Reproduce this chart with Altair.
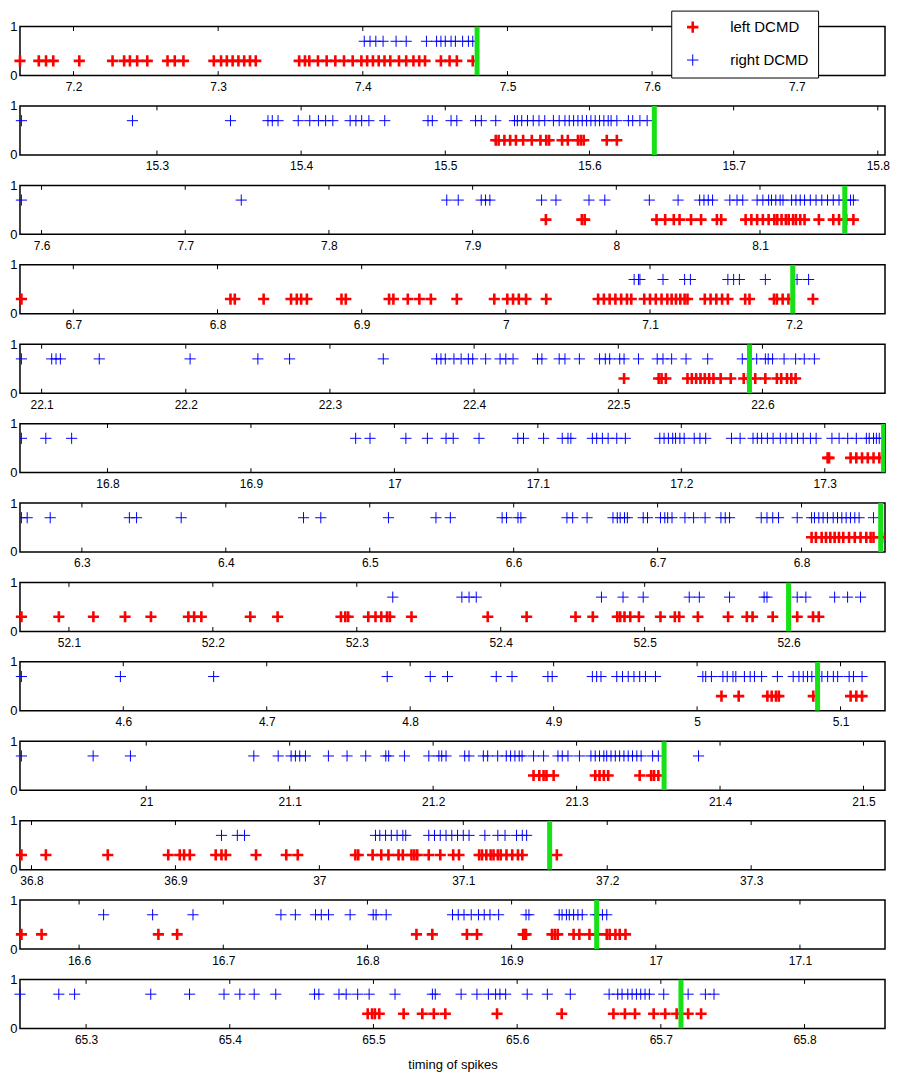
import altair as alt
import pandas as pd

# ---------------- data (spike times in seconds) ----------------
red1 = [7.163, 7.176, 7.181, 7.186, 7.204, 7.227, 7.235, 7.239, 7.244, 7.251, 7.265, 7.270, 7.276,
        7.297, 7.302, 7.306, 7.310, 7.314, 7.318, 7.322, 7.326, 7.356, 7.360, 7.363, 7.369, 7.375,
        7.381, 7.387, 7.393, 7.399, 7.403, 7.407, 7.411, 7.415, 7.419, 7.425, 7.430, 7.435, 7.439,
        7.443, 7.454, 7.460, 7.465, 7.476]
blue1 = [7.401, 7.405, 7.409, 7.414, 7.423, 7.430, 7.444, 7.451, 7.454, 7.457, 7.461, 7.464, 7.469,
         7.473, 7.476]

red2 = [15.535, 15.537, 15.541, 15.545, 15.549, 15.554, 15.560, 15.566, 15.570, 15.572, 15.581,
        15.585, 15.592, 15.594, 15.596, 15.612, 15.619]
blue2 = [15.206, 15.283, 15.351, 15.377, 15.380, 15.384, 15.398, 15.406, 15.412, 15.417, 15.422,
         15.434, 15.438, 15.442, 15.447, 15.458, 15.488, 15.491, 15.504, 15.508, 15.521, 15.525,
         15.535, 15.548, 15.550, 15.553, 15.557, 15.561, 15.565, 15.569, 15.575, 15.579, 15.583,
         15.586, 15.589, 15.592, 15.595, 15.598, 15.601, 15.604, 15.607, 15.610, 15.613, 15.615,
         15.619, 15.627, 15.630, 15.635, 15.640]

red3 = [7.951, 7.976, 7.978, 8.028, 8.034, 8.040, 8.044, 8.052, 8.059, 8.070, 8.073, 8.090, 8.094,
        8.098, 8.102, 8.106, 8.110, 8.112, 8.115, 8.118, 8.120, 8.123, 8.125, 8.128, 8.131, 8.141,
        8.151, 8.155, 8.160, 8.165]
blue3 = [7.586, 7.739, 7.882, 7.890, 7.906, 7.909, 7.912, 7.948, 7.958, 7.981, 7.992, 8.023, 8.043,
         8.058, 8.061, 8.064, 8.067, 8.079, 8.084, 8.088, 8.098, 8.102, 8.106, 8.108, 8.111, 8.114,
         8.116, 8.122, 8.125, 8.128, 8.131, 8.135, 8.139, 8.143, 8.147, 8.151, 8.155, 8.159, 8.163,
         8.165]

red4 = [6.664, 6.809, 6.812, 6.832, 6.851, 6.855, 6.858, 6.862, 6.886, 6.889, 6.919, 6.922, 6.932,
        6.940, 6.948, 6.966, 6.992, 7.001, 7.005, 7.009, 7.014, 7.028, 7.064, 7.068, 7.072, 7.076,
        7.080, 7.084, 7.087, 7.096, 7.100, 7.104, 7.108, 7.112, 7.115, 7.118, 7.121, 7.124, 7.126,
        7.138, 7.142, 7.146, 7.150, 7.154, 7.166, 7.169, 7.186, 7.188, 7.192, 7.196, 7.213]
blue4 = [7.089, 7.092, 7.093, 7.109, 7.124, 7.128, 7.154, 7.158, 7.162, 7.180, 7.202, 7.210]

red5 = [22.504, 22.528, 22.530, 22.533, 22.548, 22.551, 22.554, 22.557, 22.560, 22.563, 22.566,
        22.571, 22.578, 22.587, 22.590, 22.595, 22.602, 22.610, 22.613, 22.617, 22.620, 22.623]
blue5 = [22.086, 22.107, 22.110, 22.113, 22.140, 22.203, 22.250, 22.272, 22.337, 22.374, 22.377,
         22.380, 22.386, 22.391, 22.396, 22.399, 22.408, 22.418, 22.422, 22.427, 22.444, 22.447,
         22.459, 22.463, 22.473, 22.487, 22.491, 22.494, 22.501, 22.504, 22.514, 22.527, 22.531,
         22.537, 22.547, 22.562, 22.586, 22.590, 22.596, 22.602, 22.604, 22.607, 22.615, 22.623,
         22.629, 22.636]

red6 = [17.302, 17.303, 17.318, 17.322, 17.326, 17.330, 17.334, 17.338, 17.342]
blue6 = [16.740, 16.757, 16.775, 16.973, 16.983, 17.008, 17.023, 17.036, 17.041, 17.059, 17.086,
         17.090, 17.104, 17.117, 17.121, 17.123, 17.138, 17.141, 17.145, 17.149, 17.155, 17.161,
         17.185, 17.188, 17.191, 17.194, 17.196, 17.199, 17.202, 17.209, 17.213, 17.217, 17.235,
         17.241, 17.250, 17.253, 17.256, 17.260, 17.264, 17.269, 17.273, 17.277, 17.281, 17.285,
         17.290, 17.294, 17.305, 17.310, 17.316, 17.322, 17.329, 17.331, 17.334, 17.336, 17.338,
         17.342]

red7 = [6.807, 6.810, 6.814, 6.817, 6.820, 6.823, 6.826, 6.829, 6.833, 6.837, 6.841, 6.845, 6.848,
        6.850, 6.856]
blue7 = [6.258, 6.262, 6.278, 6.333, 6.338, 6.369, 6.454, 6.466, 6.513, 6.546, 6.556, 6.592, 6.595,
         6.603, 6.605, 6.637, 6.641, 6.651, 6.669, 6.672, 6.674, 6.677, 6.679, 6.690, 6.693, 6.702,
         6.705, 6.707, 6.710, 6.719, 6.725, 6.733, 6.744, 6.747, 6.750, 6.772, 6.776, 6.780, 6.784,
         6.797, 6.807, 6.809, 6.812, 6.815, 6.818, 6.822, 6.825, 6.828, 6.831, 6.834, 6.837, 6.840,
         6.850]

red8 = [52.067, 52.093, 52.117, 52.139, 52.157, 52.183, 52.187, 52.192, 52.226, 52.245, 52.289,
        52.292, 52.294, 52.308, 52.313, 52.317, 52.321, 52.323, 52.338, 52.391, 52.418, 52.452,
        52.464, 52.481, 52.483, 52.486, 52.490, 52.496, 52.511, 52.521, 52.524, 52.537, 52.558,
        52.571, 52.575, 52.589, 52.606, 52.617, 52.621]
blue8 = [52.325, 52.373, 52.378, 52.383, 52.470, 52.485, 52.499, 52.531, 52.538, 52.559, 52.583,
         52.585, 52.606, 52.612, 52.632, 52.641, 52.650]

red9 = [5.017, 5.029, 5.049, 5.052, 5.055, 5.057, 5.081, 5.107, 5.111, 5.115]
blue9 = [4.529, 4.598, 4.663, 4.784, 4.814, 4.826, 4.860, 4.871, 4.896, 4.899, 4.927, 4.930, 4.933,
         4.944, 4.948, 4.952, 4.956, 4.960, 4.964, 4.971, 5.004, 5.006, 5.010, 5.018, 5.021, 5.025,
         5.027, 5.033, 5.037, 5.040, 5.045, 5.056, 5.067, 5.071, 5.074, 5.077, 5.080, 5.083, 5.087,
         5.091, 5.095, 5.098, 5.106, 5.109, 5.115]

red10 = [21.270, 21.274, 21.277, 21.279, 21.284, 21.313, 21.316, 21.319, 21.322, 21.344, 21.352,
         21.354, 21.357]
blue10 = [20.913, 20.963, 20.989, 21.075, 21.092, 21.101, 21.104, 21.107, 21.111, 21.127, 21.140,
          21.153, 21.167, 21.169, 21.180, 21.197, 21.204, 21.206, 21.209, 21.222, 21.225, 21.235,
          21.238, 21.245, 21.251, 21.254, 21.257, 21.260, 21.262, 21.270, 21.277, 21.287, 21.290,
          21.294, 21.302, 21.310, 21.313, 21.316, 21.319, 21.321, 21.324, 21.327, 21.330, 21.333,
          21.336, 21.339, 21.342, 21.345, 21.353, 21.357, 21.385]

red11 = [36.793, 36.810, 36.853, 36.895, 36.903, 36.906, 36.910, 36.928, 36.932, 36.935, 36.956,
         36.977, 36.985, 37.025, 37.027, 37.037, 37.043, 37.048, 37.055, 37.058, 37.064, 37.066,
         37.068, 37.076, 37.084, 37.093, 37.097, 37.111, 37.113, 37.116, 37.119, 37.121, 37.124,
         37.126, 37.130, 37.134, 37.138, 37.141, 37.165]
blue11 = [36.932, 36.943, 36.948, 37.039, 37.042, 37.046, 37.050, 37.054, 37.058, 37.060, 37.076,
          37.080, 37.084, 37.088, 37.092, 37.096, 37.100, 37.104, 37.115, 37.124, 37.129, 37.137,
          37.141, 37.144]

red12 = [16.560, 16.574, 16.655, 16.668, 16.834, 16.845, 16.869, 16.876, 16.908, 16.909, 16.910,
         16.928, 16.930, 16.932, 16.943, 16.947, 16.954, 16.959, 16.966, 16.968, 16.972, 16.975,
         16.979]
blue12 = [16.617, 16.651, 16.679, 16.740, 16.750, 16.764, 16.768, 16.773, 16.788, 16.804, 16.806,
          16.813, 16.859, 16.863, 16.867, 16.872, 16.877, 16.881, 16.885, 16.891, 16.910, 16.912,
          16.933, 16.935, 16.938, 16.940, 16.943, 16.946, 16.949, 16.958, 16.960, 16.963, 16.966]

red13 = [65.496, 65.499, 65.501, 65.504, 65.521, 65.534, 65.542, 65.550, 65.586, 65.631, 65.667,
         65.675, 65.682, 65.695, 65.703, 65.711, 65.719, 65.728]
blue13 = [65.254, 65.281, 65.292, 65.345, 65.372, 65.396, 65.407, 65.417, 65.432, 65.459, 65.462,
          65.476, 65.481, 65.489, 65.497, 65.515, 65.541, 65.543, 65.561, 65.572, 65.580, 65.585,
          65.588, 65.592, 65.607, 65.621, 65.637, 65.664, 65.670, 65.673, 65.677, 65.680, 65.683,
          65.686, 65.689, 65.692, 65.702, 65.719, 65.731, 65.737]

# window of each trial and time of the green marker
x_min = [7.163, 15.205, 7.585, 6.663, 22.085, 16.739, 6.257, 52.066, 4.528, 20.912, 36.792, 16.559, 65.254]
x_max = [7.761, 15.805, 8.187, 7.263, 22.685, 17.342, 6.858, 52.667, 5.131, 21.515, 37.393, 17.159, 65.856]
stop_time = [7.479, 15.645, 8.159, 7.199, 22.591, 17.341, 6.855, 52.600, 5.084, 21.361, 37.160, 16.959, 65.714]

tick_values = [
    [7.2, 7.3, 7.4, 7.5, 7.6, 7.7],
    [15.3, 15.4, 15.5, 15.6, 15.7, 15.8],
    [7.6, 7.7, 7.8, 7.9, 8.0, 8.1],
    [6.7, 6.8, 6.9, 7.0, 7.1, 7.2],
    [22.1, 22.2, 22.3, 22.4, 22.5, 22.6],
    [16.8, 16.9, 17.0, 17.1, 17.2, 17.3],
    [6.3, 6.4, 6.5, 6.6, 6.7, 6.8],
    [52.1, 52.2, 52.3, 52.4, 52.5, 52.6],
    [4.6, 4.7, 4.8, 4.9, 5.0, 5.1],
    [21.0, 21.1, 21.2, 21.3, 21.4, 21.5],
    [36.8, 36.9, 37.0, 37.1, 37.2, 37.3],
    [16.6, 16.7, 16.8, 16.9, 17.0, 17.1],
    [65.3, 65.4, 65.5, 65.6, 65.7, 65.8],
]

series_names = ["left DCMD", "right DCMD"]
series_level = [0.3, 0.7]

reds = [red1, red2, red3, red4, red5, red6, red7, red8, red9, red10, red11, red12, red13]
blues = [blue1, blue2, blue3, blue4, blue5, blue6, blue7, blue8, blue9, blue10, blue11, blue12, blue13]

FONT = "Liberation Sans"
CROSS = "M-1,0L1,0M0,-1L0,1"
PANEL_W = 866


def panel(i):
    last = i == len(reds) - 1
    # spikes sitting on the right edge would widen the page, so only that panel is clipped
    edge_clip = x_max[i] - max(reds[i] + blues[i]) < 0.004
    xscale = alt.Scale(domain=[x_min[i], x_max[i]], nice=False, zero=False)
    xaxis = alt.Axis(values=tick_values[i], format="~g", ticks=False, domain=False, grid=False,
                     labelFont=FONT, labelFontSize=12, labelColor="black", labelPadding=6,
                     labelFlush=False, labelOverlap=False,
                     titleFont=FONT, titleFontSize=13, titleFontWeight="normal",
                     titleColor="black", titlePadding=13)
    xtitle = "timing of spikes" if last else None
    yscale = alt.Scale(domain=[0, 1], nice=False, zero=False)
    yaxis = alt.Axis(values=[0, 1], format="d", ticks=False, domain=False, grid=False,
                     labelFont=FONT, labelFontSize=13, labelColor="black", labelPadding=3)

    pts = pd.DataFrame({
        "t": reds[i] + blues[i],
        "series": [series_names[0]] * len(reds[i]) + [series_names[1]] * len(blues[i]),
        "y": [series_level[0]] * len(reds[i]) + [series_level[1]] * len(blues[i]),
    })
    tk = pd.DataFrame({
        "t": tick_values[i] * 2,
        "y0": [0.0] * len(tick_values[i]) + [0.91] * len(tick_values[i]),
        "y1": [0.09] * len(tick_values[i]) + [1.0] * len(tick_values[i]),
    })
    green = pd.DataFrame({"t": [stop_time[i]]})

    if i == 0:
        leg = alt.Legend(title=None, orient="none", legendX=652, legendY=-16,
                         fillColor="white", strokeColor="black", padding=9,
                         labelFont=FONT, labelFontSize=15, labelColor="black",
                         symbolType=CROSS, symbolSize=130, symbolOffset=5,
                         labelOffset=30, rowPadding=13)
    else:
        leg = None

    ticks_layer = alt.Chart(tk).mark_rule(color="black", strokeWidth=1).encode(
        x=alt.X("t:Q", scale=xscale, axis=xaxis, title=xtitle),
        y=alt.Y("y0:Q", scale=yscale, axis=yaxis, title=None),
        y2="y1:Q",
    )
    pts_layer = alt.Chart(pts).mark_point(shape=CROSS, filled=False, size=125, opacity=1,
                                          clip=bool(edge_clip)).encode(
        x=alt.X("t:Q", scale=xscale, axis=xaxis, title=xtitle),
        y=alt.Y("y:Q", scale=yscale, axis=yaxis, title=None),
        color=alt.Color("series:N", scale=alt.Scale(domain=series_names, range=["#ff0000", "#0000ff"]),
                        legend=leg),
        strokeWidth=alt.StrokeWidth("series:N", scale=alt.Scale(domain=series_names, range=[2.6, 1.0]),
                                    legend=leg),
    )
    green_layer = alt.Chart(green).mark_rule(color="#16e016", strokeWidth=5, clip=True).encode(
        x=alt.X("t:Q", scale=xscale, axis=xaxis, title=xtitle),
    )
    return alt.layer(ticks_layer, pts_layer, green_layer).properties(width=PANEL_W, height=49)


chart = alt.vconcat(*[panel(i) for i in range(len(reds))], spacing=30.5, bounds="flush").resolve_scale(
    color="independent", strokeWidth="independent"
).properties(
    padding={"left": 0, "top": 0, "right": 0, "bottom": 0},
    background="white",
).configure_view(
    stroke="black", strokeWidth=1.5
)

chart.save("out.html", embed_options={"renderer": "svg", "actions": False})
